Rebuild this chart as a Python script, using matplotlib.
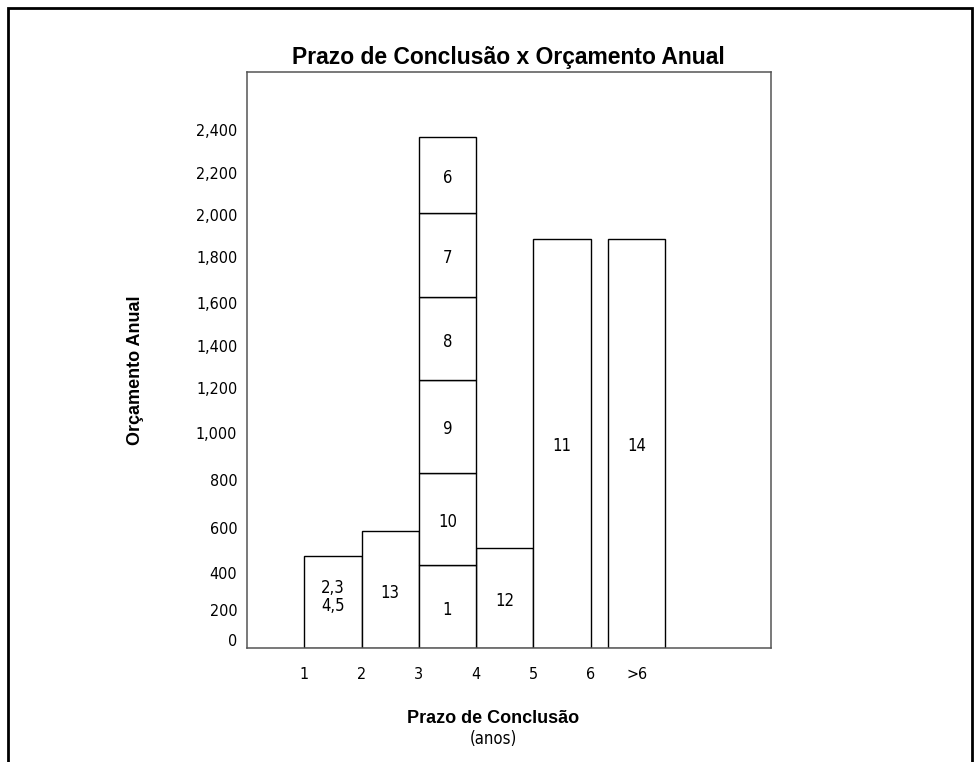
import numpy as np
import matplotlib
matplotlib.use("Agg")
import matplotlib.pyplot as plt
from matplotlib.patches import Rectangle
from matplotlib.transforms import ScaledTranslation

# y axis of the drawing is not linear: value -> height in pixels above the base line
y_ticks = [0, 200, 400, 600, 800, 1000, 1200, 1400, 1600, 1800, 2000, 2200, 2400]
y_tick_px = [0, 30, 67, 112, 160, 207, 252, 294, 337, 383, 425, 467, 510]

# single bars (left edge in years, value, label)
bar_x = [1, 2, 4, 5, 6.3]
bar_vals = [510, 620, 545, 1925, 1925]
bar_labels = ["2,3\n4,5", "13", "12", "11", "14"]

# stacked bar between 3 and 4 years, bottom to top
stack_x = 3
stack_vals = [470, 395, 410, 385, 390, 355]
stack_labels = ["1", "10", "9", "8", "7", "6"]

x_ticks = [1, 2, 3, 4, 5, 6, 6.8]
x_tick_labels = ["1", "2", "3", "4", "5", "6", ">6"]

cad = dict(family=["Liberation Sans Narrow", "DejaVu Sans"], fontstretch="condensed")
bold = dict(family=["Liberation Sans", "DejaVu Sans"], fontweight="bold")

yv = np.array([-1000] + y_ticks + [5000], dtype=float)
yp = np.array([-150] + y_tick_px + [510 + 2600 * 0.21], dtype=float)


def fwd(v):
    return np.interp(v, yv, yp)


def inv(p):
    return np.interp(p, yp, yv)


fig = plt.figure(figsize=(9.8, 7.62), dpi=100)
ax = fig.add_axes([247 / 980, 114 / 762, 523.7 / 980, 576 / 762])

# outer frame (open at the bottom)
fig.add_artist(Rectangle((8 / 980, -0.1), 964 / 980, 754 / 762 + 0.1,
                         transform=fig.transFigure, fill=False, lw=2, color="black"))

bars = ax.bar(bar_x, bar_vals, width=1.0, align="edge", color="white",
              edgecolor="black", linewidth=1.0)
stack_bars = []
bottom = 0
for v in stack_vals:
    b = ax.bar(stack_x, v, width=1.0, bottom=bottom, align="edge", color="white",
               edgecolor="black", linewidth=1.0)
    stack_bars.append(b[0])
    bottom += v

ax.set_yscale("function", functions=(fwd, inv))
ax.set_xlim(0, 9.14)
ax.set_ylim(0, inv(576))

ax.set_yticks(y_ticks)
ax.set_yticklabels([f"{v:,}" for v in y_ticks], fontsize=11.5, **cad)
ax.set_xticks(x_ticks)
ax.set_xticklabels(x_tick_labels, fontsize=11.5, **cad)
ax.tick_params(axis="y", length=0, pad=7)
ax.tick_params(axis="x", length=0, pad=14)
shift = ScaledTranslation(0, 8 / 100, fig.dpi_scale_trans)
for lbl in ax.get_yticklabels():
    lbl.set_transform(lbl.get_transform() + shift)

for s in ax.spines.values():
    s.set_color("#555555")
    s.set_linewidth(1.1)

# labels in the middle of each box
fig.canvas.draw()
renderer = fig.canvas.get_renderer()
for p, lbl in list(zip(bars, bar_labels)) + list(zip(stack_bars, stack_labels)):
    bb = p.get_window_extent(renderer)
    dy = 5 if "\n" in lbl else -3
    ax.annotate(lbl, xy=((bb.x0 + bb.x1) / 2, (bb.y0 + bb.y1) / 2 + dy),
                xycoords="figure pixels", ha="center", va="center",
                fontsize=12, linespacing=1.0, **cad)

ax.set_title("Prazo de Conclusão x Orçamento Anual", fontsize=16.5, pad=6, **bold)
ax.set_ylabel("Orçamento Anual", fontsize=13, **bold)
ax.yaxis.set_label_coords(-0.197, 0.483)
ax.set_xlabel("Prazo de Conclusão", fontsize=13, **bold)
ax.xaxis.set_label_coords(0.47, -0.108)
ax.text(0.47, -0.158, "(anos)", transform=ax.transAxes, ha="center", va="center",
        fontsize=12, **cad)

fig.savefig("out.png", dpi=100)
